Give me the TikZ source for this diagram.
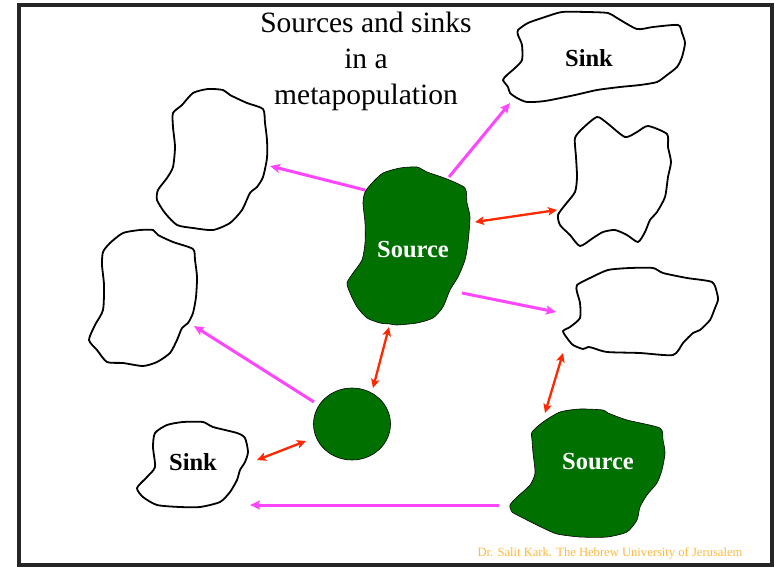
\documentclass[tikz,border=0pt]{standalone}
\usepackage{fontspec}
\setmainfont{Liberation Serif}
\usetikzlibrary{arrows.meta,shapes.geometric}
\definecolor{srcgreen}{RGB}{0,112,0}
\definecolor{migmag}{RGB}{255,70,255}
\definecolor{exred}{RGB}{255,40,0}
\definecolor{credit}{RGB}{255,185,60}
\tikzset{
  sinkpatch/.style={draw=black, line width=1.8pt, fill=white, line join=round},
  sourcepatch/.style={draw=black, line width=0.6pt, fill=srcgreen, line join=round},
  oneway/.style={draw=migmag, line width=3pt, -{Stealth[length=10pt,width=9pt,inset=2pt]}},
  twoway/.style={draw=exred, line width=2.3pt, {Stealth[length=9pt,width=8.5pt,inset=2pt]}-{Stealth[length=9pt,width=8.5pt,inset=2pt]}},
  sinklabel/.style={font=\fontsize{24.5}{28}\selectfont\bfseries, text=black, inner sep=0pt},
  sourcelabel/.style={font=\fontsize{24.5}{28}\selectfont\bfseries, text=white, inner sep=0pt},
  framebox/.style={draw=black!85, line width=3.5pt}
}
\begin{document}
\begin{tikzpicture}[x=1pt,y=-1pt]
\useasboundingbox (0,0) rectangle (774,568);
\fill[white] (0,0) rectangle (774,568);
\draw[framebox] (19,5) rectangle (772,565);

% title
\node[font=\fontsize{29.5}{36}\selectfont, align=center, inner sep=0pt] (title) at (366,61)
  {Sources and sinks\\in a\\metapopulation};

% sink patches (outlines)
\draw[sinkpatch] plot[smooth cycle, tension=0.4] coordinates {
 (173,113) (182,105) (193,93) (208,89) (223,90) (230,95) (247,103) (263,109)
 (265,123) (267,140) (267,158) (263,177) (257,187) (250,193) (242,210) (230,223)
 (213,230) (193,228) (177,225) (165,213) (157,200) (158,190) (167,178) (173,167)
 (175,147) (173,127)};
\draw[sinkpatch] plot[smooth cycle, tension=0.4] coordinates {
 (103,252) (110,243) (123,233) (140,230) (153,230) (158,235) (173,242) (193,249)
 (195,260) (197,277) (196,297) (193,313) (188,323) (182,328) (177,340) (170,353)
 (157,362) (143,366) (123,363) (107,362) (97,350) (89,340) (95,325) (103,310)
 (104,285) (102,265)};
\draw[sinkpatch] plot[smooth cycle, tension=0.4] coordinates {
 (518,30) (528,23) (545,17) (562,12) (587,12) (608,13) (617,18) (637,29) (653,27)
 (678,25) (682,33) (685,43) (682,57) (677,67) (667,75) (657,82) (640,85) (620,87)
 (597,90) (575,95) (545,101) (527,102) (517,98) (510,93) (508,87) (503,80)
 (507,75) (515,68) (522,60) (522,45) (518,35)};
\draw[sinkpatch] plot[smooth cycle, tension=0.4] coordinates {
 (575,138) (583,128) (597,117) (607,123) (625,137) (637,132) (648,126) (667,134)
 (668,147) (671,162) (668,177) (665,197) (657,212) (650,220) (645,232) (638,242)
 (627,235) (615,230) (603,232) (593,238) (580,246) (570,235) (560,225) (558,215)
 (565,205) (575,192) (577,177) (576,157)};
\draw[sinkpatch] plot[smooth cycle, tension=0.4] coordinates {
 (577,285) (590,278) (608,270) (630,268) (653,268) (663,273) (687,278) (712,282)
 (717,293) (718,300) (715,308) (710,320) (700,330) (693,333) (683,343) (673,355)
 (640,353) (607,352) (593,348) (588,347) (583,349) (573,345) (567,338) (563,331)
 (570,327) (580,318) (580,303) (577,292)};
\draw[sinkpatch] plot[smooth cycle, tension=0.4] coordinates {
 (155,433) (167,425) (183,422) (203,422) (213,427) (237,433) (245,438) (248,452)
 (245,462) (240,470) (237,480) (230,492) (220,502) (200,507) (180,507) (157,505)
 (143,497) (137,488) (147,477) (155,467) (153,447)};

% source patches
\draw[sourcepatch] plot[smooth cycle, tension=0.4] coordinates {
 (365,192) (372,183) (383,173) (400,168) (417,167) (427,172) (447,179) (465,188)
 (467,203) (470,217) (468,243) (465,260) (458,277) (450,290) (443,307) (433,318)
 (417,323) (397,325) (390,324) (380,323) (367,318) (357,307) (350,293) (347,283)
 (353,273) (362,260) (365,243) (365,223) (363,203)};
\draw[sourcepatch] plot[smooth cycle, tension=0.4] coordinates {
 (532,432) (543,422) (560,412) (580,409) (603,410) (608,413) (627,420) (660,428)
 (663,440) (665,453) (662,470) (657,483) (647,495) (640,507) (637,520) (627,532)
 (607,537) (580,537) (557,534) (543,528) (523,518) (512,512) (510,505) (517,497)
 (530,485) (535,473) (533,453) (532,440)};
\node[draw=black, line width=0.6pt, fill=srcgreen, ellipse, minimum width=77pt, minimum height=72pt, inner sep=0pt] (small) at (352,424) {};

% labels
\node[sinklabel] (sinkTop) at (589,58) {Sink};
\node[sinklabel] (sinkLow) at (193,462) {Sink};
\node[sourcelabel] (srcMain) at (413,250) {Source};
\node[sourcelabel] (srcLow) at (598,462) {Source};

% connector end points
\coordinate (mA0) at (365,190); \coordinate (mA1) at (270,166);
\coordinate (mB0) at (449,177); \coordinate (mB1) at (510,103);
\coordinate (mC0) at (462,293); \coordinate (mC1) at (556,312);
\coordinate (mD0) at (314,402); \coordinate (mD1) at (194,326);
\coordinate (mE0) at (499,505); \coordinate (mE1) at (250,505);
\coordinate (rA0) at (475,222); \coordinate (rA1) at (557,210);
\coordinate (rB0) at (389,327); \coordinate (rB1) at (373,388);
\coordinate (rC0) at (306,441); \coordinate (rC1) at (257,460);
\coordinate (rD0) at (563,353); \coordinate (rD1) at (545,413);

\draw[oneway] (mA0) -- (mA1);
\draw[oneway] (mB0) -- (mB1);
\draw[oneway] (mC0) -- (mC1);
\draw[oneway] (mD0) -- (mD1);
\draw[oneway] (mE0) -- (mE1);
\draw[twoway] (rA0) -- (rA1);
\draw[twoway] (rB0) -- (rB1);
\draw[twoway] (rC0) -- (rC1);
\draw[twoway] (rD0) -- (rD1);

% credit
\node[text=credit, font=\fontsize{12.6}{15}\selectfont, inner sep=0pt] (credit) at (610,553)
  {Dr. Salit Kark. The Hebrew University of Jerusalem};
\end{tikzpicture}
\end{document}
